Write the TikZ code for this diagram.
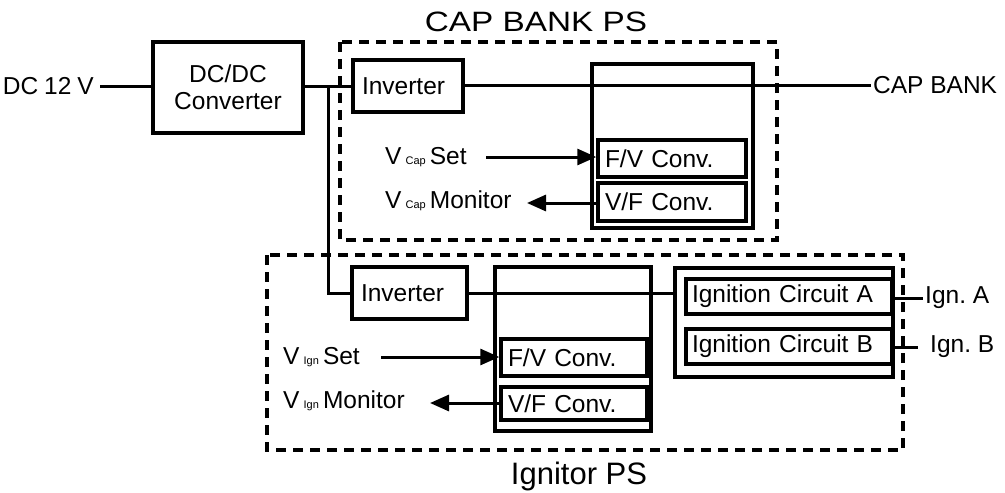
\documentclass[tikz,border=0pt]{standalone}
\usepackage{fontspec}
\setmainfont{Liberation Sans}
\usetikzlibrary{arrows.meta,calc}
\begin{document}
\frenchspacing
\begin{tikzpicture}[x=1pt,y=-1pt,
  every node/.style={font=\fontsize{24.5}{27}\selectfont, inner sep=0pt},
  blk/.style={draw, line width=3.5pt, align=left},
  grp/.style={draw, line width=3.5pt, dash pattern=on 10pt off 7pt},
  wire/.style={line width=3pt},
  sig/.style={line width=3pt, -{Triangle[length=19pt,width=16pt]}},
  lbl/.style={anchor=west},
  ttl/.style={font=\fontsize{28}{30}\selectfont}
]
\useasboundingbox (0,0) rectangle (1005,493);
% group frames
\draw[grp] (340,42) rectangle (777,240);
\draw[grp] (267,255) rectangle (903,450);
\node[ttl] (tcap) at (536,22) {\scalebox{1.19}[1]{CAP BANK PS}};
\node[ttl,font=\fontsize{31}{33}\selectfont] (tign) at (579,476) {Ignitor PS};

% boxes
\node[blk, minimum height=91pt, text width=150pt, align=center] (dcdc) at (228,87.5) {DC/DC\\Converter};
\node[blk, minimum height=52pt, text width=92pt, inner xsep=9pt] (inv1) at (408,86) {Inverter};
\node[blk, minimum height=52pt, text width=97pt, inner xsep=9pt] (inv2) at (409.5,293) {Inverter};
\node[draw, line width=3.5pt, minimum width=161pt, minimum height=164pt] (big1) at (672.5,146) {};
\node[draw, line width=3.5pt, minimum width=156pt, minimum height=164pt] (big2) at (573,349) {};
\node[draw, line width=3.5pt, minimum width=218pt, minimum height=109pt] (big3) at (784,322.5) {};
\node[blk, minimum height=37pt, text width=134pt, inner xsep=7pt] (fv1) at (672,158.5) {F/V Conv.};
\node[blk, minimum height=38pt, text width=134pt, inner xsep=7pt] (vf1) at (672,202) {V/F Conv.};
\node[blk, minimum height=37pt, text width=132pt, inner xsep=7pt] (fv2) at (574,357.5) {F/V Conv.};
\node[blk, minimum height=33pt, text width=132pt, inner xsep=7pt] (vf2) at (574,403.5) {V/F Conv.};
\node[blk, minimum height=35pt, text width=194pt, inner xsep=6pt] (igA) at (789,296.5) {Ignition Circuit A};
\node[blk, minimum height=35pt, text width=194pt, inner xsep=6pt] (igB) at (789,346.5) {Ignition Circuit B};

% labels
\node[anchor=east] (dc12) at (94,86) {DC\hspace{6pt}12\hspace{6pt}V};
\node[lbl] (capbank) at (873,85) {CAP BANK};
\node[lbl] (ignA) at (925,298) {Ign. A};
\node[lbl] (ignB) at (930,347) {Ign. B};
\node[lbl] (vcs) at (385,157) {V\,{\fontsize{11}{11}\selectfont Cap}\,Set};
\node[lbl] (vcm) at (385,201) {V\,{\fontsize{11}{11}\selectfont Cap}\,Monitor};
\node[lbl] (vis) at (283,357) {V\,{\fontsize{11}{11}\selectfont Ign}\,Set};
\node[lbl] (vim) at (283,401) {V\,{\fontsize{11}{11}\selectfont Ign}\,Monitor};

% coordinates
\coordinate (j) at (328,86);
\coordinate (jb) at (328,293);
\coordinate (vcsS) at (486,157);
\coordinate (vcmE) at (527,203);
\coordinate (visS) at (381,357);
\coordinate (vimE) at (430,403);
\coordinate (cbE) at (871,85);
\coordinate (iaE) at (923,298);
\coordinate (ibE) at (918,347);
\coordinate (dcS) at (100,86);

% wires
\draw[wire] (dcS) -- (dcdc.west |- dcS);
\draw[wire] (dcdc.east |- j) -- (j) -- (inv1.west |- j);
\draw[wire] (j) -- (jb) -- (inv2.west |- jb);
\draw[wire] (inv1.east |- cbE) -- (cbE);
\draw[wire] (inv2.east |- jb) -- (big3.west |- jb);
\draw[wire] (igA.east |- iaE) -- (iaE);
\draw[wire] (igB.east |- ibE) -- (ibE);

% signal arrows
\draw[sig] (vcsS) -- (fv1.west |- vcsS);
\draw[sig] (vf1.west |- vcmE) -- (vcmE);
\draw[sig] (visS) -- (fv2.west |- visS);
\draw[sig] (vf2.west |- vimE) -- (vimE);
\end{tikzpicture}
\end{document}
